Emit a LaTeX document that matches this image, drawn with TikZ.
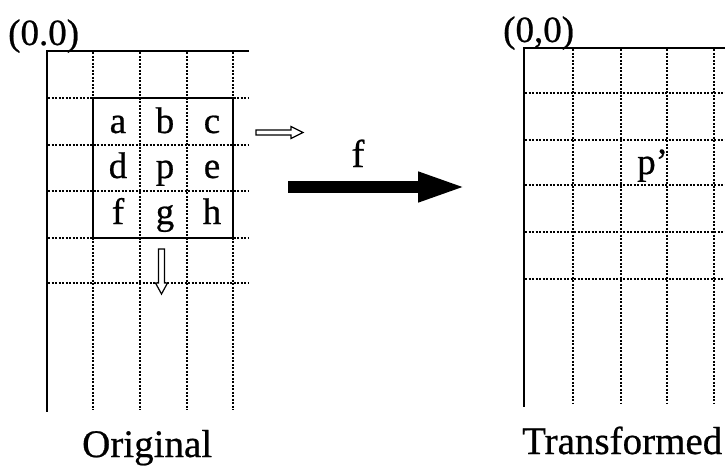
\documentclass[tikz,border=0pt]{standalone}
\usepackage{fontspec}
\setmainfont{Liberation Serif}[FakeBold=0.6]
\usetikzlibrary{arrows.meta}

\begin{document}
\begin{tikzpicture}[
    x=1pt,
    y=-1pt,
    every node/.style={inner sep=0pt},
]
\tikzset{
    frame/.style={draw=black,line width=2.6pt},
    window/.style={draw=black,line width=2.4pt},
    dotgrid/.style={draw=black,line width=2.6pt,dash pattern=on 2.2pt off 1.3pt},
    letter/.style={font=\fontsize{37}{37}\selectfont,anchor=base},
    caption/.style={font=\fontsize{39}{39}\selectfont,anchor=base west},
    origin/.style={font=\fontsize{37}{37}\selectfont,anchor=base west},
    hollow/.style={draw=black,line width=1.2pt,fill=white,line join=miter},
    mapping/.style={draw=black,line width=12pt,-{Triangle[length=49pt,width=27pt]}},
}
\useasboundingbox (0,0) rectangle (725,466);

% source image grid
\foreach \x in {93,140,187,233} {
    \draw[dotgrid] (\x,52) -- (\x,410);
}
\foreach \y in {98,145,191,238,283} {
    \draw[dotgrid] (48,\y) -- (249,\y);
}
\draw[frame] (249,51) -- (47,51) -- (47,412);
\draw[window] (93,98) rectangle (233,238);

\node[origin] (srcorigin) at (8,45) {(0.0)};
\node[caption] (srccaption) at (82,457) {Original};

% 3x3 neighbourhood
\node[letter] (na) at (118,133) {a};
\node[letter] (nb) at (165,133) {b};
\node[letter] (nc) at (212,133) {c};
\node[letter] (nd) at (118,178) {d};
\node[letter] (np) at (165,178) {p};
\node[letter] (ne) at (212,178) {e};
\node[letter] (nf) at (118,224) {f};
\node[letter] (ng) at (165,224) {g};
\node[letter] (nh) at (212,224) {h};

% scan directions
\draw[hollow] (256,130) -- (291,130) -- (291,126.5) -- (303,132.5)
    -- (291,138.5) -- (291,135) -- (256,135) -- cycle;
\draw[hollow] (158.5,249) -- (158.5,283) -- (155.5,283) -- (161.5,294)
    -- (167.5,283) -- (164.5,283) -- (164.5,249) -- cycle;

% transform
\coordinate (mapfrom) at (288,187);
\coordinate (mapto) at (467,187);
\draw[mapping] (mapfrom) -- (mapto);
\node[font=\fontsize{39}{39}\selectfont,anchor=base] (fname) at (358,167) {f};

% target image grid
\foreach \x in {573,621,667,714} {
    \draw[dotgrid] (\x,49) -- (\x,404);
}
\foreach \y in {93,140,185,232,279} {
    \draw[dotgrid] (525,\y) -- (725,\y);
}
\draw[frame] (725,48) -- (524,48) -- (524,407);

\node[origin] (dstorigin) at (503,42) {(0,0)};
\node[caption] (dstcaption) at (522,454) {Transformed};
\node[letter,anchor=base west] (pmapped) at (637,174) {p’};
\end{tikzpicture}
\end{document}
